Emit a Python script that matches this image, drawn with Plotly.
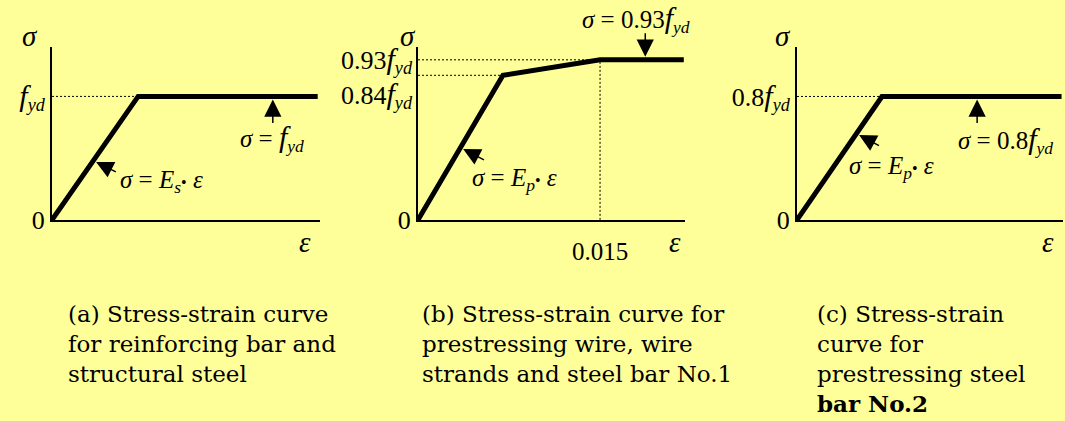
import plotly.graph_objects as go

W, H = 1065, 421
BG = "#FFFF99"
INK = "black"
MATH = "Liberation Serif"
TEXT = "DejaVu Serif"

# ---- curve data: strain ε and stress σ (in units of f_yd) ----
eps_a = [0, 0.0071, 0.0219]
sig_a = [0, 1.0, 1.0]

eps_b = [0, 0.0070, 0.015, 0.0219]
sig_b = [0, 0.84, 0.93, 0.93]

eps_c = [0, 0.0070, 0.0218]
sig_c = [0, 0.8, 0.8]

# ---- axis tick values and labels ----
BIGF = "<span style='font-size:30px'><i>f</i></span>"
FYD = BIGF + "<sub><i>yd</i></sub>"
yticks_a = [0, 1.0]
ylabels_a = ["0", FYD]
yticks_b = [0, 0.84, 0.93]
ylabels_b = ["0", "0.84" + FYD, "0.93" + FYD]
xticks_b = [0.015]
xlabels_b = ["0.015"]
yticks_c = [0, 0.8]
ylabels_c = ["0", "0.8" + FYD]

captions = [
    "(a) Stress-strain curve<br>for reinforcing bar and<br>structural steel",
    "(b) Stress-strain curve for<br>prestressing wire, wire<br>strands and steel bar No.1",
    "(c) Stress-strain<br>curve for<br>prestressing steel<br><b>bar No.2</b>",
]


def px(x):
    return x / W


def py(y):
    return 1 - y / H


# panel frames in pixels: left, right, bottom, top
frames = [(52, 320, 228, 49), (418, 685, 228, 49), (797, 1063, 228, 49)]
# axis ranges (strain max, stress max)
ranges = [(0.02209, 1.398), (0.0220, 1.003), (0.02192, 1.119)]

fig = go.Figure()
layout = {}
for i, ((l, r, b, t), (xm, ym)) in enumerate(zip(frames, ranges)):
    sfx = "" if i == 0 else str(i + 1)
    layout["xaxis" + sfx] = dict(
        domain=[px(l), px(r)], range=[0, xm], anchor="y" + sfx,
        showgrid=False, zeroline=False, showline=True, linewidth=2,
        linecolor=INK, ticks="", showticklabels=False, fixedrange=True,
    )
    layout["yaxis" + sfx] = dict(
        domain=[py(b), py(t)], range=[0, ym], anchor="x" + sfx,
        showgrid=False, zeroline=False, showline=True, linewidth=2,
        linecolor=INK, ticks="", fixedrange=True,
        tickfont=dict(family=MATH, size=26, color=INK),
    )

layout["yaxis"].update(tickmode="array", tickvals=yticks_a, ticktext=ylabels_a)
# panel (b): only the origin as an axis tick, the two stress levels are
# written beside their guide lines further down
layout["yaxis2"].update(tickmode="array", tickvals=yticks_b[:1], ticktext=ylabels_b[:1])
layout["yaxis3"].update(tickmode="array", tickvals=yticks_c, ticktext=ylabels_c)
layout["xaxis2"].update(tickmode="array", tickvals=xticks_b, ticktext=xlabels_b,
                        showticklabels=True, ticklabelstandoff=8,
                        tickfont=dict(family=MATH, size=25, color=INK))

DOT = dict(color=INK, width=1, dash="2px,2px")
THICK = dict(color=INK, width=5)


def guide(x, y, xa, ya):
    fig.add_trace(go.Scatter(x=x, y=y, mode="lines", line=DOT,
                             xaxis=xa, yaxis=ya, hoverinfo="skip"))


# (a) reinforcing bar
guide([0, eps_a[1]], [sig_a[1], sig_a[1]], "x", "y")
fig.add_trace(go.Scatter(x=eps_a, y=sig_a, mode="lines", line=THICK,
                         xaxis="x", yaxis="y", hoverinfo="skip"))

# (b) prestressing wire / strands / bar No.1
guide([0, eps_b[1]], [sig_b[1], sig_b[1]], "x2", "y2")
guide([0, eps_b[2]], [sig_b[2], sig_b[2]], "x2", "y2")
guide([eps_b[2], eps_b[2]], [0, sig_b[2]], "x2", "y2")
fig.add_trace(go.Scatter(x=eps_b, y=sig_b, mode="lines", line=THICK,
                         xaxis="x2", yaxis="y2", hoverinfo="skip"))

# (c) prestressing steel bar No.2
guide([0, eps_c[1]], [sig_c[1], sig_c[1]], "x3", "y3")
fig.add_trace(go.Scatter(x=eps_c, y=sig_c, mode="lines", line=THICK,
                         xaxis="x3", yaxis="y3", hoverinfo="skip"))

ann = []

# stress-level labels of panel (b)
for val, txt, shift in zip(yticks_b[1:], ylabels_b[1:], [-20, 0]):
    ann.append(dict(x=0, y=val, xref="x2", yref="y2", text=txt, showarrow=False,
                    xanchor="right", yanchor="middle", xshift=-3, yshift=shift,
                    font=dict(family=MATH, size=26, color=INK)))


def arrow(x, y, xr, yr, ax, ay, standoff=3):
    ann.append(dict(x=x, y=y, xref=xr, yref=yr, text="", showarrow=True,
                    ax=ax, ay=ay, arrowhead=2, arrowsize=2.3, arrowwidth=1.5,
                    arrowcolor=INK, standoff=standoff))


def on_segment(xs, ys, k, f):
    return xs[k] + f * (xs[k + 1] - xs[k]), ys[k] + f * (ys[k + 1] - ys[k])


# arrows pointing at the elastic branch
x, y = on_segment(eps_a, sig_a, 0, 0.48)
arrow(x, y, "x", "y", 24, 12)
x, y = on_segment(eps_b, sig_b, 0, 0.50)
arrow(x, y, "x2", "y2", 25, 13)
x, y = on_segment(eps_c, sig_c, 0, 0.70)
arrow(x, y, "x3", "y3", 24, 13)

# arrows pointing at the plateaus
x, y = on_segment(eps_a, sig_a, 1, 0.75)
arrow(x, y, "x", "y", 0, 28)
x, y = on_segment(eps_b, sig_b, 2, 0.54)
arrow(x, y, "x2", "y2", 0, -28)
x, y = on_segment(eps_c, sig_c, 1, 0.53)
arrow(x, y, "x3", "y3", 0, 28)


def label(txt, x, y, size=25, xanchor="left", yanchor="middle", family=MATH):
    ann.append(dict(x=px(x), y=py(y), xref="paper", yref="paper", text=txt,
                    showarrow=False, xanchor=xanchor, yanchor=yanchor,
                    font=dict(family=family, size=size, color=INK)))


DOTOP = "<span style='font-size:16px'>•</span>"
S = "<i>σ</i>"
E = "<i>ε</i>"
EQ = "\u00a0=\u00a0"

# axis names
for xs, xe in [(30, 305), (408, 675), (783, 1048)]:
    label(S, xs, 37, size=29, xanchor="center")
    label(E, xe, 251, size=29, xanchor="center")

# curve equations
label(S + EQ + FYD, 238, 143)
label(S + EQ + "<i>E</i><sub><i>s</i></sub>" + DOTOP + "\u00a0" + E, 118, 188)
label(S + EQ + "0.93" + FYD, 580, 20)
label(S + EQ + "<i>E</i><sub><i>p</i></sub>" + DOTOP + "\u00a0" + E, 470, 186)
label(S + EQ + "0.8" + FYD, 956, 145)
label(S + EQ + "<i>E</i><sub><i>p</i></sub>" + DOTOP + "\u00a0" + E, 847, 174)

# captions
for cap, x in zip(captions, [66, 420, 815]):
    ann.append(dict(x=px(x), y=py(310), xref="paper", yref="paper", text=cap,
                    showarrow=False, xanchor="left", yanchor="top", align="left",
                    font=dict(family=TEXT, size=23, color=INK)))

fig.update_layout(
    width=W, height=H, autosize=False,
    margin=dict(l=0, r=0, t=0, b=0),
    paper_bgcolor=BG, plot_bgcolor=BG,
    showlegend=False, annotations=ann, **layout,
)

fig.write_html("out.html", config={"displayModeBar": False})
